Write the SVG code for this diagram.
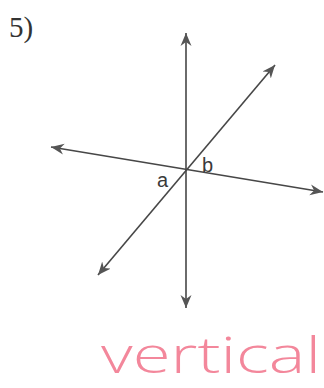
<svg xmlns="http://www.w3.org/2000/svg" width="324" height="388" viewBox="0 0 324 388">
<style>
.ln{stroke:#474747;stroke-width:1.6;fill:none}
.lbl{font-family:"Liberation Sans",Arial,sans-serif;font-size:20px;fill:#3a3a3a}
.num{font-family:"Liberation Serif","Times New Roman",serif;font-size:29px;fill:#333}
.hw{font-family:"Open Sans","Noto Sans",sans-serif;font-weight:300;font-size:50px;fill:#f3879b}
</style>
<defs>
<marker id="ah" viewBox="0 0 14 12" refX="13" refY="6" markerWidth="14" markerHeight="12" markerUnits="userSpaceOnUse" orient="auto-start-reverse">
<path d="M0,0.5 L13,6 L0,11.5 L4,6 Z" fill="#555"/>
</marker>
</defs>
<g id="label-5"><text class="num" x="9" y="37">5)</text></g>
<g id="connectors">
<line id="vertical-line" class="ln" x1="186" y1="33" x2="186" y2="308" marker-start="url(#ah)" marker-end="url(#ah)"/>
<line id="transversal-line" class="ln" x1="51" y1="147" x2="323" y2="192" marker-start="url(#ah)" marker-end="url(#ah)"/>
<line id="diagonal-line" class="ln" x1="98" y1="275" x2="275" y2="65" marker-start="url(#ah)" marker-end="url(#ah)"/>
</g>
<g id="angle-a"><text class="lbl" x="157" y="187">a</text></g>
<g id="angle-b"><text class="lbl" x="202" y="172">b</text></g>
<g id="answer"><text class="hw" x="101" y="373" textLength="220" lengthAdjust="spacingAndGlyphs">vertical</text></g>
</svg>
